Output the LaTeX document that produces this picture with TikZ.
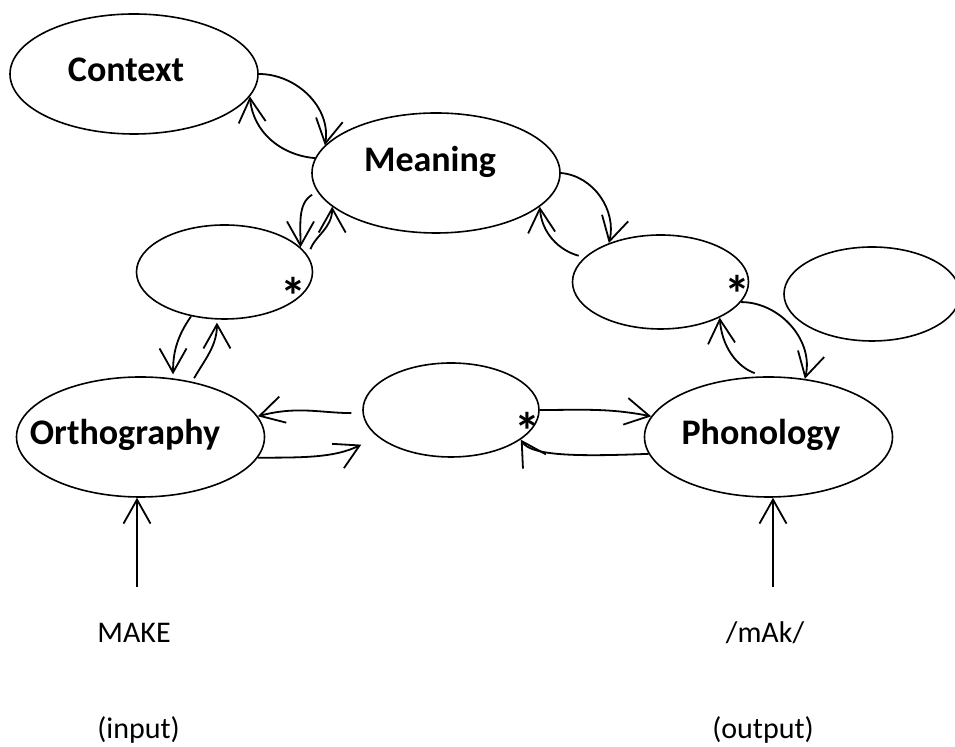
\documentclass[tikz,border=0pt]{standalone}
\usepackage{fontspec}
\setmainfont{Carlito}
\usetikzlibrary{shapes.geometric, arrows.meta}
\tikzstyle{bigbubble} = [ellipse, draw, thick, inner sep=0pt,
                 minimum width=124pt, minimum height=60pt]
\tikzstyle{smallbubble} = [ellipse, draw, thick, inner sep=0pt,
                 minimum width=88pt, minimum height=47pt]
\tikzstyle{link} = [line width=0.9pt, draw, -{Straight Barb[length=12pt, width=13.5pt]}]
\tikzset{
	bubbletext/.style={font=\fontsize{18}{22}\selectfont\bfseries, anchor=base},
	starmark/.style={font=\fontsize{26}{30}\selectfont\bfseries, inner sep=0pt},
	note/.style={font=\fontsize{15}{18}\selectfont, anchor=base, inner sep=0pt},
}

\begin{document}
\begin{tikzpicture}[x=0.5pt, y=-0.5pt]
\useasboundingbox (0,0) rectangle (955,747);

% bubbles
\node [bigbubble] at (134,74) (ctx) {};
\node [bigbubble] at (436,173) (mean) {};
\node [smallbubble] at (224.5,272) (lsem) {};
\node [smallbubble] at (660.5,282) (rsem) {};
\node [smallbubble] at (872,294) (extra) {};
\node [bigbubble] at (140.5,437) (orth) {};
\node [smallbubble] at (451,410) (hid) {};
\node [bigbubble] at (768.5,437) (phon) {};

\node [bubbletext] at (126,82) (ctxtext) {Context};
\node [bubbletext] at (430,172) (meantext) {Meaning};
\node [bubbletext] at (125,445) (orthtext) {Orthography};
\node [bubbletext] at (761,445) (phontext) {Phonology};

\node [starmark] at (293,296) (lstar) {*};
\node [starmark] at (527,431) (mstar) {*};
\node [starmark] at (737,294) (rstar) {*};

% in and out
\node [note, anchor=base west] at (97,643) (make) {MAKE};
\node [note, anchor=base west] at (97,739) (input) {(input)};
\node [note] at (765,643) (mak) {/mAk/};
\node [note] at (763,739) (output) {(output)};

\coordinate (inp) at (137,587);
\coordinate (outp) at (773,587);
\path [link] (inp) -- (inp |- orth.south);
\path [link] (outp) -- (outp |- phon.south);

% two-way links
\path [link] (ctx.0) to[out=0, in=80] (mean.166);
\path [link] (mean.173) to[out=175, in=-85] (ctx.349);
\path [link, shorten <=3pt] (mean.189) to[out=210, in=90] (lsem.18);
\path [link, shorten <=3.5pt] (lsem.11) to[out=70, in=-90] (mean.198);
\path [link, shorten >=2pt] (lsem.233) to[out=235, in=90] (orth.61);
\path [link, shorten <=2pt, shorten >=1.5pt] (orth.47) to[out=60, in=-90] (lsem.261);
\path [link, shorten <=5.5pt] (hid.182) to[out=180, in=15] (orth.10);
\path [link, shorten >=9pt] (orth.350) to[out=0, in=-154] (hid.200);
\path [link] (hid.0) to[out=0, in=169] (phon.170);
\path [link] (phon.188) .. controls +(-75,3) and +(10,16) .. (hid.337);
\path [link] (mean.0) to[out=-5, in=76] (rsem.143);
\path [link, shorten <=3pt] (rsem.162) to[out=165, in=-86] (mean.342);
\path [link] (rsem.346) to[out=0, in=76] (phon.58);
\path [link, shorten <=4.5pt] (phon.95) to[out=160, in=-86] (rsem.329);

\end{tikzpicture}
\end{document}
